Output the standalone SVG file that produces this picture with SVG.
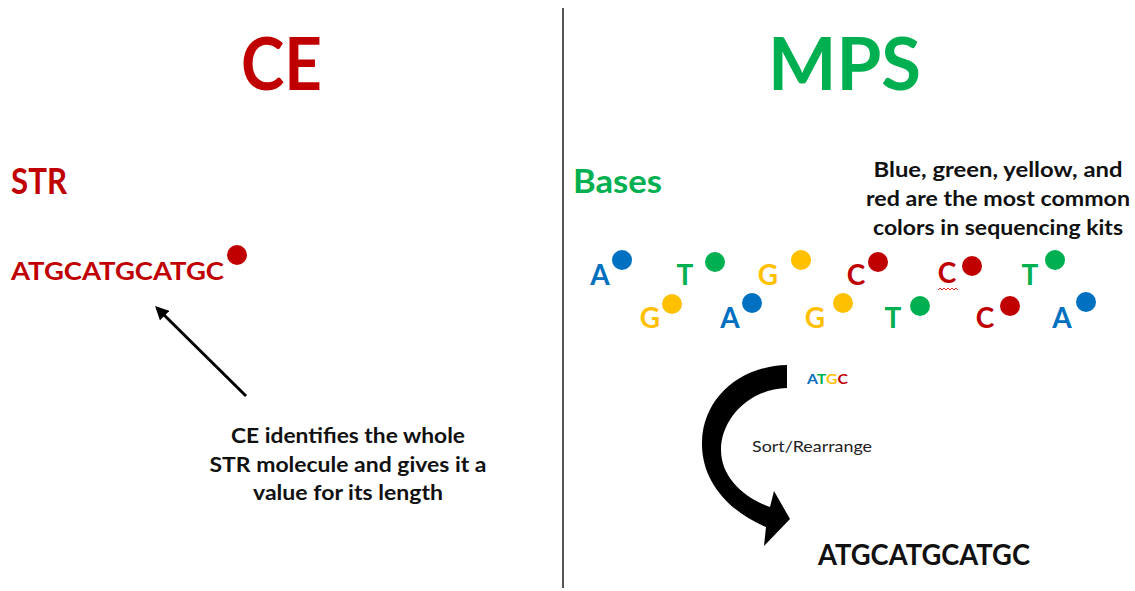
<svg xmlns="http://www.w3.org/2000/svg" width="1135" height="591" viewBox="0 0 1135 591">
  <style>
    text { font-family: Lato, "Open Sans", "Liberation Sans", sans-serif; font-weight: bold; }
    .red { fill: #C00000; }
    .green { fill: #00B050; }
    .blue { fill: #0070C0; }
    .yellow { fill: #FFC000; }
    .ink { fill: #111111; }
    .title { font-size: 72px; }
    .base { font-size: 28px; text-anchor: middle; }
    .note { font-size: 21.5px; text-anchor: middle; }
    .reg { font-weight: normal; }
  </style>
  <defs>
    <marker id="head" viewBox="0 0 10 10" refX="8" refY="5" markerWidth="4.5" markerHeight="4.5" orient="auto-start-reverse" markerUnits="strokeWidth">
      <path d="M0,0 L10,5 L0,10 Z" fill="#000"/>
    </marker>
  </defs>

  <rect width="1135" height="591" fill="#ffffff"/>

  <!-- divider between the two halves -->
  <line x1="563" y1="8" x2="563" y2="588" stroke="#555555" stroke-width="2"/>

  <!-- left half: capillary electrophoresis -->
  <g id="ce-title">
    <text class="title red" x="241" y="90" textLength="81" lengthAdjust="spacingAndGlyphs">CE</text>
  </g>
  <g id="ce-str">
    <text class="red" x="11" y="194" font-size="36" textLength="56" lengthAdjust="spacingAndGlyphs">STR</text>
    <text class="red" x="11" y="280" font-size="25" textLength="213" lengthAdjust="spacingAndGlyphs">ATGCATGCATGC</text>
    <circle cx="237" cy="255" r="10" fill="#C00000"/>
  </g>
  <g id="ce-note">
    <text class="note ink" x="348" y="443" textLength="234" lengthAdjust="spacingAndGlyphs">CE identifies the whole</text>
    <text class="note ink" x="348" y="472" textLength="277" lengthAdjust="spacingAndGlyphs">STR molecule and gives it a</text>
    <text class="note ink" x="348" y="500" textLength="190" lengthAdjust="spacingAndGlyphs">value for its length</text>
  </g>

  <!-- right half: massively parallel sequencing -->
  <g id="mps-title">
    <text class="title green" x="768" y="90" textLength="153" lengthAdjust="spacingAndGlyphs">MPS</text>
  </g>
  <g id="mps-bases-label">
    <text class="green" x="573" y="193" font-size="33" textLength="89" lengthAdjust="spacingAndGlyphs">Bases</text>
  </g>
  <g id="mps-note">
    <text class="note ink" x="998" y="177" textLength="249" lengthAdjust="spacingAndGlyphs">Blue, green, yellow, and</text>
    <text class="note ink" x="998" y="206" textLength="264" lengthAdjust="spacingAndGlyphs">red are the most common</text>
    <text class="note ink" x="998" y="235" textLength="250" lengthAdjust="spacingAndGlyphs">colors in sequencing kits</text>
  </g>

  <!-- labelled bases, each with its dye dot -->
  <g id="bases">
    <text class="base blue" x="600" y="285">A</text><circle class="blue" cx="622" cy="260" r="10"/>
    <text class="base green" x="685" y="285">T</text><circle class="green" cx="715" cy="262" r="10"/>
    <text class="base yellow" x="768" y="285">G</text><circle class="yellow" cx="801" cy="260" r="10"/>
    <text class="base red" x="856" y="285">C</text><circle class="red" cx="878" cy="262" r="10"/>
    <text class="base red" x="947" y="283">C</text><circle class="red" cx="972" cy="266" r="10"/>
    <path d="M938,290 l2,-2 l2,2 l2,-2 l2,2 l2,-2 l2,2 l2,-2 l2,2 l2,-2 l2,2" fill="none" stroke="#e03030" stroke-width="1"/>
    <text class="base green" x="1030" y="285">T</text><circle class="green" cx="1055" cy="260" r="10"/>

    <text class="base yellow" x="650" y="328">G</text><circle class="yellow" cx="672" cy="304" r="10"/>
    <text class="base blue" x="730" y="328">A</text><circle class="blue" cx="752" cy="303" r="10"/>
    <text class="base yellow" x="815" y="328">G</text><circle class="yellow" cx="843" cy="303" r="10"/>
    <text class="base green" x="893" y="328">T</text><circle class="green" cx="920" cy="306" r="10"/>
    <text class="base red" x="985" y="328">C</text><circle class="red" cx="1010" cy="306" r="10"/>
    <text class="base blue" x="1062" y="328">A</text><circle class="blue" cx="1086" cy="302" r="10"/>
  </g>

  <g id="mps-atgc">
    <text x="807" y="384" font-size="13" textLength="41" lengthAdjust="spacingAndGlyphs"><tspan class="blue">A</tspan><tspan class="green">T</tspan><tspan class="yellow">G</tspan><tspan class="red">C</tspan></text>
  </g>
  <g id="mps-sort-label">
    <text class="reg" x="752" y="452" font-size="15" fill="#222222" textLength="120" lengthAdjust="spacingAndGlyphs">Sort/Rearrange</text>
  </g>
  <g id="mps-result">
    <text class="ink" x="818" y="565" font-size="28" textLength="212" lengthAdjust="spacingAndGlyphs">ATGCATGCATGC</text>
  </g>

  <g id="connectors">
    <!-- pointer from the CE note up to the STR -->
    <line x1="246" y1="396" x2="157" y2="308" stroke="#000" stroke-width="3" marker-end="url(#head)"/>
    <!-- thick curved arrow: sorting step -->
    <path d="M787,365 C740,366 703,398 702,442 C701,482 730,512 766,527 L764,546 L790,519 L774,491 L770,507 C742,497 721,476 721,450 C721,420 748,389 787,388 Z" fill="#000"/>
  </g>
</svg>
